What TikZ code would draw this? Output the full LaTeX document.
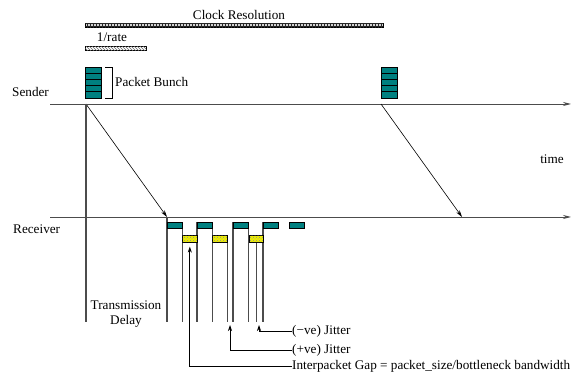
\documentclass[tikz,border=0pt]{standalone}
\usepackage{fontspec}
\setmainfont{Liberation Serif}
\usetikzlibrary{arrows.meta,patterns}
\definecolor{pktteal}{RGB}{0,128,128}
\definecolor{pktyellow}{RGB}{240,240,0}
\begin{document}
\begin{tikzpicture}[x=1pt,y=-1pt,
  lbl/.style={font=\fontsize{13.2}{15}\selectfont, inner sep=0pt},
  axis/.style={draw=gray!60!black, line width=0.9pt, -{Stealth[length=8pt,width=4pt]}},
  msg/.style={draw=black, line width=0.6pt, -{Stealth[length=7pt,width=4pt]}},
  ptr/.style={draw=black, line width=0.7pt, -{Stealth[length=6pt,width=4pt]}},
  tick/.style={draw=gray!60!black, line width=1.1pt},
  bunch/.style={draw=black, line width=0.6pt, fill=pktteal, minimum width=16pt, minimum height=31pt, inner sep=0pt, anchor=north west},
  tpkt/.style={draw=black, line width=0.6pt, fill=pktteal, minimum width=15pt, minimum height=6pt, inner sep=0pt, anchor=north west},
  ypkt/.style={draw=black, line width=0.6pt, fill=pktyellow, minimum width=15pt, minimum height=7pt, inner sep=0pt, anchor=north west,
    postaction={pattern=crosshatch dots, pattern color=black!45}},
]
\useasboundingbox (0,0) rectangle (573,374);

% labels at top
\node[lbl] (clk) at (239,15) {Clock Resolution};
\node[draw=black, line width=0.6pt, fill=gray!35, postaction={pattern=grid, pattern color=black!85},
      minimum width=298pt, minimum height=4pt, inner sep=0pt, anchor=north west] (clkbar) at (85,23) {};
\node[lbl] (rate) at (112,37) {1/rate};
\node[draw=black, line width=0.5pt, fill=white, postaction={pattern=north west lines, pattern color=black!60},
      minimum width=61pt, minimum height=4pt, inner sep=0pt, anchor=north west] (ratebar) at (85,46) {};

% sender / receiver
\node[lbl, anchor=west] (snd) at (12,92) {Sender};
\node[lbl, anchor=west] (rcv) at (13,229) {Receiver};
\node[lbl] (time) at (552,159) {time};

\coordinate (sl0) at (50,104);
\coordinate (sl1) at (571,104);
\coordinate (rl0) at (50,217);
\coordinate (rl1) at (571,217);
\draw[axis] (sl0) -- (sl1);
\draw[axis] (rl0) -- (rl1);

% packet bunches
\node[bunch] (sb1) at (85,67) {};
\node[bunch] (sb2) at (381,67) {};
\foreach \b in {sb1,sb2}{
  \foreach \k in {1,...,4}{
    \draw[line width=0.6pt] (\b.north west) ++(0,6.2*\k) -- ++(16,0);
  }
}
\draw[line width=0.7pt] (105,67) -- (112,67) -- (112,98) -- (105,98);
\node[lbl, anchor=west] (pb) at (115,82) {Packet Bunch};

% flights
\coordinate (s1) at (86,104);
\coordinate (rtip) at (167,217);
\coordinate (s2) at (381,104);
\coordinate (rtip2) at (462,217);
\coordinate (bot) at (0,322);
\draw[msg] (s1) -- (rtip);
\draw[msg] (s2) -- (rtip2);
\draw[tick] (s1) -- (s1 |- bot);

% receiver packets
\node[tpkt] (r1) at (167,222) {};
\node[tpkt] (r2) at (197,222) {};
\node[tpkt] (r3) at (233,222) {};
\node[tpkt] (r4) at (263,222) {};
\node[tpkt] (r5) at (289,222) {};
\node[ypkt] (y1) at (182,235) {};
\node[ypkt] (y2) at (212,235) {};
\node[ypkt, minimum width=14pt] (y3) at (249,235) {};

% vertical ticks
\draw[tick] (rtip) -- (rtip |- bot);
\draw[tick] (r1.south east) -- (r1.south east |- bot);
\draw[tick] (r2.north west) -- (r2.north west |- bot);
\draw[tick] (r2.south east) -- (r2.south east |- bot);
\draw[tick] (y2.north east) -- (y2.north east |- bot);
\draw[tick] (r3.north west) -- (r3.north west |- bot);
\draw[tick] (r3.south east) -- (r3.south east |- bot);
\draw[tick] (y3.south) -- (y3.south |- bot);
\draw[tick] (r4.north west) -- (r4.north west |- bot);

% redraw packets on top of ticks
\node[tpkt] at (167,222) {};
\node[tpkt] at (197,222) {};
\node[tpkt] at (233,222) {};
\node[tpkt] at (263,222) {};
\node[ypkt] at (182,235) {};
\node[ypkt] at (212,235) {};
\node[ypkt, minimum width=14pt] at (249,235) {};

\node[lbl, align=center] (td) at (126,314) {Transmission\\Delay};

% annotations
\node[lbl, anchor=west] (nj) at (292,331) {(−ve) Jitter};
\node[lbl, anchor=west] (pj) at (292,350) {(+ve) Jitter};
\node[lbl, anchor=west] (ipg) at (292,366) {Interpacket Gap = packet\_size/bottleneck bandwidth};
\coordinate (njt) at (259,325);
\coordinate (pjt) at (230,325);
\draw[ptr] (nj.west) -| (njt);
\draw[ptr] (pj.west) -| (pjt);
\draw[ptr, shorten >=4pt] (ipg.west) -| (y1.south);
\end{tikzpicture}
\end{document}
